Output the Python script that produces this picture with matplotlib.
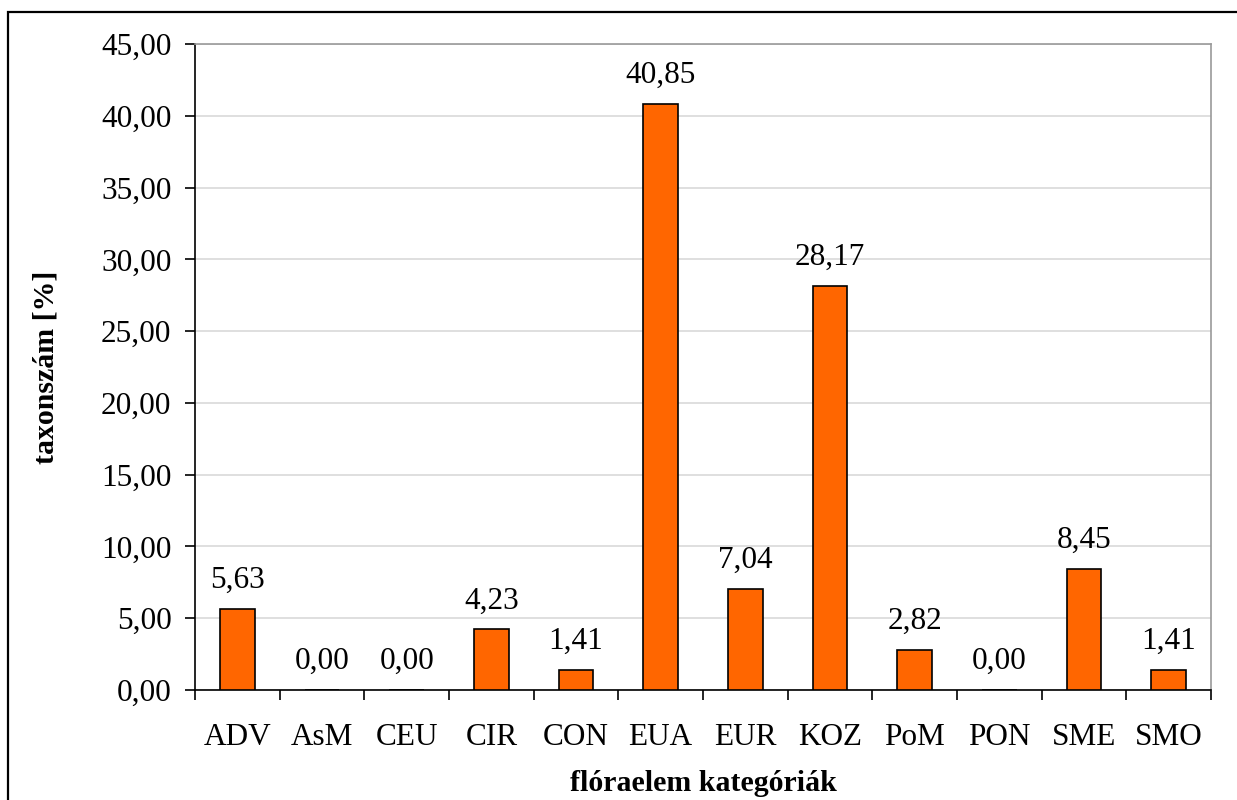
import numpy as np
import matplotlib.pyplot as plt
from matplotlib.patches import Rectangle

# flóraelem kategóriák és taxonszám százalékok
categories = ["ADV", "AsM", "CEU", "CIR", "CON", "EUA", "EUR", "KOZ", "PoM", "PON", "SME", "SMO"]
values = [5.63, 0.00, 0.00, 4.23, 1.41, 40.85, 7.04, 28.17, 2.82, 0.00, 8.45, 1.41]
y_ticks = [0, 5, 10, 15, 20, 25, 30, 35, 40, 45]
y_tick_labels = ["0,00", "5,00", "10,00", "15,00", "20,00", "25,00", "30,00", "35,00", "40,00", "45,00"]

plt.rcParams['font.family'] = ['Liberation Serif', 'DejaVu Serif']

fig = plt.figure(figsize=(12.37, 8), dpi=100)
ax = fig.add_axes([195 / 1237, 1 - 690 / 800, (1211 - 195) / 1237, (690 - 44) / 800])

x = np.arange(len(categories))
ax.bar(x, values, width=0.41, color="#FF6600", edgecolor="black", linewidth=1.2, zorder=3)

for xi, v in zip(x, values):
    ax.annotate(f"{v:.2f}".replace(".", ","), (xi, v), xytext=(0, 10), textcoords="offset points",
                ha="center", va="bottom", fontsize=22.5)

ax.set_xlim(-0.5, len(categories) - 0.5)
ax.set_ylim(0, 45)
ax.set_yticks(y_ticks)
ax.set_yticklabels(y_tick_labels, fontsize=22.5)
ax.yaxis.grid(True, color="#d9d9d9", linewidth=1.2, zorder=0)
ax.tick_params(axis="y", length=7, width=1.2, pad=10)

ax.set_xticks(x)
ax.set_xticklabels(categories, fontsize=22.5)
ax.set_xticks(np.arange(-0.5, len(categories), 1), minor=True)
ax.tick_params(axis="x", which="major", length=0, pad=24)
ax.tick_params(axis="x", which="minor", length=7, width=1.2, direction="out")

for side in ["top", "right"]:
    ax.spines[side].set_color("#9a9a9a")
    ax.spines[side].set_linewidth(1.2)
for side in ["left", "bottom"]:
    ax.spines[side].set_linewidth(1.2)

ax.set_ylabel("taxonszám [%]", fontsize=21.5, fontweight="bold", labelpad=30)
ax.set_xlabel("flóraelem kategóriák", fontsize=21.5, fontweight="bold", labelpad=13)

# keret a diagram körül
fig.patches.append(Rectangle((8 / 1237, -0.02), 1.1, 1 - 12 / 800 + 0.02, transform=fig.transFigure,
                             fill=False, edgecolor="black", linewidth=1.6, clip_on=False))

fig.savefig("out.png", dpi=100)
